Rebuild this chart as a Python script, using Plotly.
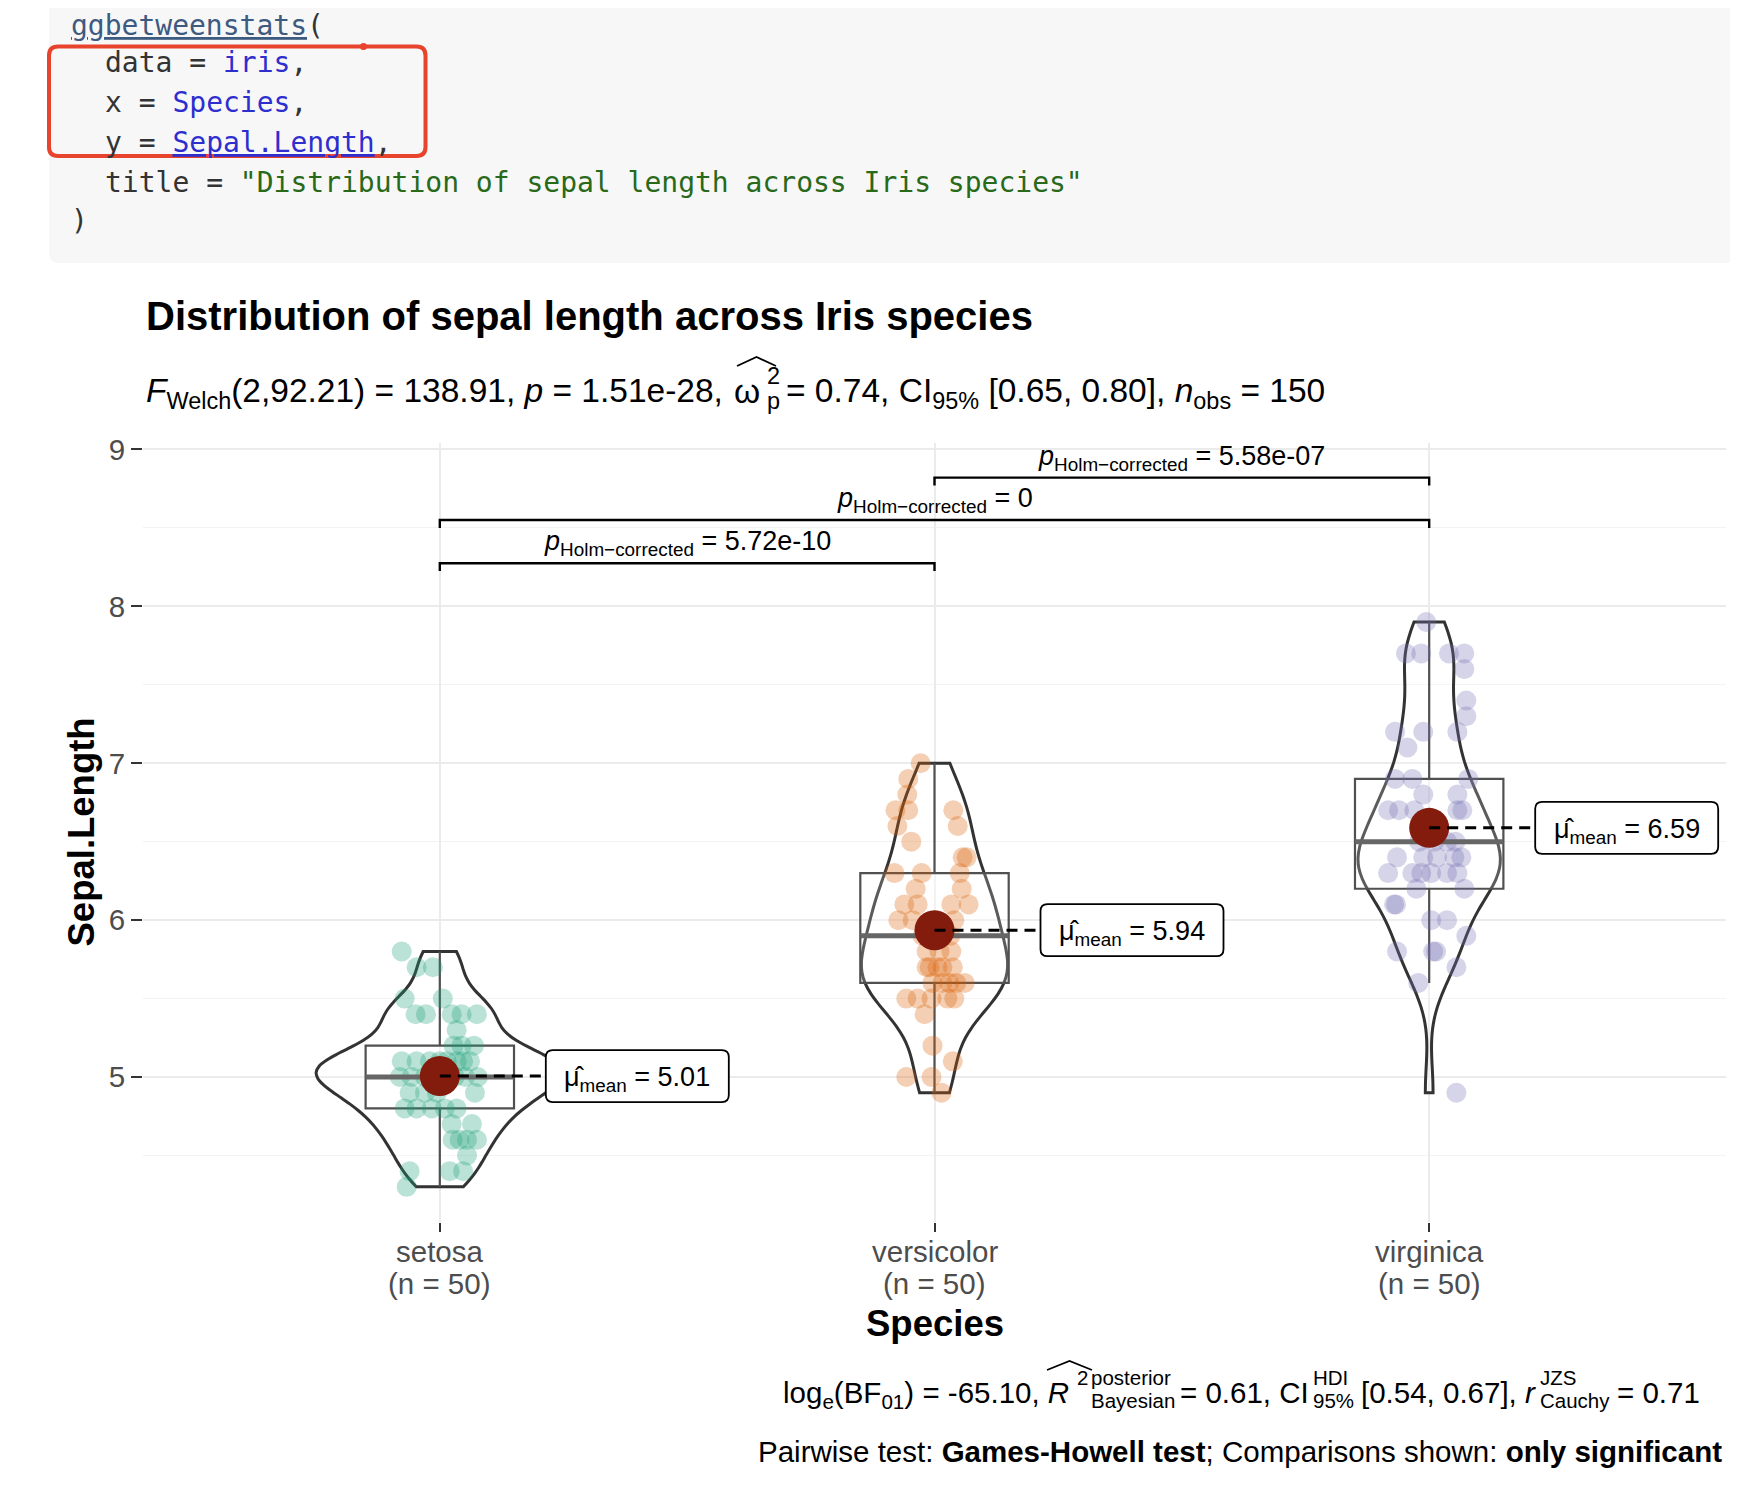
import numpy as np
import plotly.graph_objects as go

# ------------------------------------------------------------------ data
SPECIES = ["setosa", "versicolor", "virginica"]

SETOSA = [4.3, 4.4, 4.4, 4.4, 4.5, 4.6, 4.6, 4.6, 4.6, 4.7, 4.7,
          4.8, 4.8, 4.8, 4.8, 4.8, 4.9, 4.9, 4.9, 4.9,
          5.0, 5.0, 5.0, 5.0, 5.0, 5.0, 5.0, 5.0,
          5.1, 5.1, 5.1, 5.1, 5.1, 5.1, 5.1, 5.1,
          5.2, 5.2, 5.2, 5.3, 5.4, 5.4, 5.4, 5.4, 5.4, 5.5, 5.5, 5.7, 5.7, 5.8]
SETOSA_JITTER = [-0.067, -0.061, 0.020, 0.047, 0.055, 0.026, 0.055, 0.075, 0.040, 0.065, 0.024,
                 -0.047, -0.016, 0.034, -0.071, 0.010, -0.061, 0.071, -0.006, -0.030,
                 -0.081, -0.057, -0.030, -0.010, 0.010, 0.030, 0.051, 0.077,
                 -0.077, -0.047, 0.047, 0.014, 0.034, 0.061, -0.020, 0.000,
                 0.028, 0.069, 0.044, 0.034, -0.049, -0.028, 0.024, 0.075, 0.044, -0.071, 0.006,
                 -0.047, -0.014, -0.077]

VERSICOLOR = [4.9, 5.0, 5.0, 5.1, 5.2, 5.4, 5.5, 5.5, 5.5, 5.5, 5.5,
              5.6, 5.6, 5.6, 5.6, 5.6, 5.7, 5.7, 5.7, 5.7, 5.7, 5.8, 5.8, 5.8, 5.9, 5.9,
              6.0, 6.0, 6.0, 6.0, 6.1, 6.1, 6.1, 6.1, 6.2, 6.2, 6.3, 6.3, 6.3, 6.4, 6.4,
              6.5, 6.6, 6.6, 6.7, 6.7, 6.7, 6.8, 6.9, 7.0]
VERSICOLOR_JITTER = [0.014, -0.057, -0.006, 0.037, -0.004, -0.020,
                     -0.057, -0.034, -0.006, 0.026, 0.040,
                     -0.004, 0.016, 0.044, 0.061, 0.030,
                     -0.016, 0.006, 0.016, 0.037, -0.010,
                     -0.016, 0.010, 0.034, -0.024, 0.032,
                     -0.073, -0.044, 0.004, 0.040, -0.061, -0.034, 0.034, 0.069,
                     -0.038, 0.055, -0.081, -0.026, 0.051, 0.057, 0.065,
                     -0.047, -0.075, 0.047, -0.079, -0.053, 0.038, -0.055, -0.053, -0.028]

VIRGINICA = [4.9, 5.6, 5.7, 5.8, 5.8, 5.8, 5.9, 6.0, 6.0, 6.1, 6.1, 6.2, 6.2,
             6.3, 6.3, 6.3, 6.3, 6.3, 6.3, 6.4, 6.4, 6.4, 6.4, 6.4, 6.5, 6.5, 6.5, 6.5,
             6.7, 6.7, 6.7, 6.7, 6.7, 6.8, 6.8, 6.9, 6.9, 6.9, 7.1, 7.2, 7.2, 7.2,
             7.3, 7.4, 7.6, 7.7, 7.7, 7.7, 7.7, 7.9]
VIRGINICA_JITTER = [0.055, -0.022, 0.055, -0.065, 0.008, 0.014, 0.075, 0.004, 0.036,
                    -0.071, -0.067, -0.026, 0.071,
                    -0.083, -0.034, -0.016, 0.004, 0.057, 0.036,
                    -0.065, -0.012, 0.016, 0.051, 0.065,
                    0.036, 0.053, -0.020, 0.010,
                    -0.083, -0.061, -0.030, 0.057, 0.067,
                    -0.012, 0.057, -0.069, -0.034, 0.079, -0.044,
                    -0.069, -0.012, 0.057, 0.075, 0.075, 0.071,
                    -0.047, -0.016, 0.040, 0.071, -0.006]

PAIRS = [(1, 2), (1, 3), (2, 3)]
PAIR_P = ["5.72e-10", "0", "5.58e-07"]

Y_TICKS = [5, 6, 7, 8, 9]
Y_MINOR = [4.5, 5.5, 6.5, 7.5, 8.5]

# ------------------------------------------------------------------ style / geometry
SANS = "Liberation Sans, Arial, Helvetica, sans-serif"
MONO = "DejaVu Sans Mono, Menlo, monospace"
COLORS = ["#1B9E77", "#D95F02", "#7570B3"]
BRACKET_Y = [8.275, 8.55, 8.82]
TIP = 0.05
VIOLIN_W = 0.5

W, H = 1738, 1498          # browser window
OFF = 8                    # default page body margin
FW, FH = W - 2 * OFF, H - 2 * OFF
PL, PR, PT, PB = 143, 1726, 443, 1222   # panel box in page pixels


def px(x):
    return (x - PL) / (PR - PL)


def py(y):
    return (PB - y) / (PB - PT)


def P(x, y):
    return f"{px(x):.5f},{py(y):.5f}"


def rrect_paper(x0, y0, x1, y1, r):
    return (f"M {P(x0 + r, y0)} L {P(x1 - r, y0)} Q {P(x1, y0)} {P(x1, y0 + r)} "
            f"L {P(x1, y1 - r)} Q {P(x1, y1)} {P(x1 - r, y1)} L {P(x0 + r, y1)} "
            f"Q {P(x0, y1)} {P(x0, y1 - r)} L {P(x0, y0 + r)} Q {P(x0, y0)} {P(x0 + r, y0)} Z")


def rrect_pix(x0, y0, x1, y1, r):
    return (f"M {x0 + r},{y0} L {x1 - r},{y0} Q {x1},{y0} {x1},{y0 + r} "
            f"L {x1},{y1 - r} Q {x1},{y1} {x1 - r},{y1} L {x0 + r},{y1} "
            f"Q {x0},{y1} {x0},{y1 - r} L {x0},{y0 + r} Q {x0},{y0} {x0 + r},{y0} Z")


def nrd0(v):
    v = np.asarray(v, float)
    q75, q25 = np.percentile(v, [75, 25])
    lo = min(np.std(v, ddof=1), (q75 - q25) / 1.34)
    return 0.9 * lo * len(v) ** (-0.2)


def kde_peak(v, bw):
    v = np.asarray(v, float)
    grid = np.linspace(v.min(), v.max(), 512)
    dens = np.exp(-0.5 * ((grid[:, None] - v[None, :]) / bw) ** 2).sum(axis=1)
    return dens.max() / (len(v) * bw * np.sqrt(2 * np.pi))


X = [1, 2, 3]
GROUPS = [SETOSA, VERSICOLOR, VIRGINICA]
JITTERS = [SETOSA_JITTER, VERSICOLOR_JITTER, VIRGINICA_JITTER]
for g, j in zip(GROUPS, JITTERS):
    assert len(g) == len(j) == 50

BWS = [nrd0(v) for v in GROUPS]
PEAKS = [kde_peak(v, b) for v, b in zip(GROUPS, BWS)]
GMAX = max(PEAKS)

fig = go.Figure()

# violins (area-scaled like ggplot: width proportional to each group's peak density)
for i, (xc, vals) in enumerate(zip(X, GROUPS)):
    fig.add_trace(go.Violin(
        x=[xc] * len(vals), y=vals, width=VIOLIN_W * PEAKS[i] / GMAX, spanmode="hard",
        bandwidth=BWS[i], scalemode="width", scalegroup=f"g{i}", points=False,
        line=dict(color="#333333", width=3), fillcolor="rgba(255,255,255,0.2)",
        hoverinfo="skip", showlegend=False))

# boxes
for xc, vals in zip(X, GROUPS):
    fig.add_trace(go.Box(
        x=[xc] * len(vals), y=vals, width=0.3, boxpoints="outliers", quartilemethod="linear",
        marker=dict(opacity=0, size=1), line=dict(color="#505050", width=2.2),
        fillcolor="rgba(255,255,255,0.2)", whiskerwidth=0, hoverinfo="skip", showlegend=False))

# jittered points
for xc, vals, jit, col in zip(X, GROUPS, JITTERS, COLORS):
    fig.add_trace(go.Scatter(
        x=xc + np.asarray(jit), y=vals, mode="markers",
        marker=dict(size=20, color=col, opacity=0.3, line=dict(width=0)),
        hoverinfo="skip", showlegend=False))

# medians (thick)
for xc, vals in zip(X, GROUPS):
    med = float(np.median(vals))
    fig.add_trace(go.Scatter(x=[xc - 0.15, xc + 0.15], y=[med, med], mode="lines",
                             line=dict(color="#666666", width=5), hoverinfo="skip", showlegend=False))

# significance brackets
for (a, b), yb in zip(PAIRS, BRACKET_Y):
    fig.add_trace(go.Scatter(x=[a, a, b, b], y=[yb - TIP, yb, yb, yb - TIP], mode="lines",
                             line=dict(color="black", width=2.4), hoverinfo="skip", showlegend=False))

# means
MEANS = [float(np.mean(v)) for v in GROUPS]
fig.add_trace(go.Scatter(x=X, y=MEANS, mode="markers",
                         marker=dict(size=40, color="#841c0e", line=dict(width=0)),
                         hoverinfo="skip", showlegend=False))

shapes = []
ann = []

# mean labels
LBL_OFF, LBL_W, LBL_H = 106, 183, 52
for xc, m in zip(X, MEANS):
    shapes.append(dict(type="line", xref="x", yref="y", xsizemode="pixel", ysizemode="pixel",
                       xanchor=xc, yanchor=m, x0=0, x1=LBL_OFF, y0=0, y1=0,
                       line=dict(color="black", width=3, dash="11px,7px")))
    shapes.append(dict(type="path", xref="x", yref="y", xsizemode="pixel", ysizemode="pixel",
                       xanchor=xc, yanchor=m,
                       path=rrect_pix(LBL_OFF, -LBL_H / 2, LBL_OFF + LBL_W, LBL_H / 2, 7),
                       fillcolor="white", line=dict(color="black", width=1.8)))
    ann.append(dict(text=f"\u03bc\u0302<sub>mean</sub> = {m:.2f}", x=xc, y=m, xref="x", yref="y",
                    xanchor="center", yanchor="middle", xshift=LBL_OFF + LBL_W / 2, yshift=-3,
                    showarrow=False, font=dict(size=27, color="black", family=SANS)))

# bracket labels
for (a, b), yb, p in zip(PAIRS, BRACKET_Y, PAIR_P):
    ann.append(dict(text=f"<i>p</i><sub>Holm\u2212corrected</sub> = {p}", x=(a + b) / 2, y=yb,
                    xref="x", yref="y", xanchor="center", yanchor="bottom", yshift=1,
                    showarrow=False, font=dict(size=27, color="black", family=SANS)))


def text(t, x, y, size, xanchor="left", color="black", family=SANS, **kw):
    ann.append(dict(text=t, x=px(x), y=py(y), xref="paper", yref="paper", xanchor=xanchor,
                    yanchor="middle", showarrow=False,
                    font=dict(size=size, color=color, family=family), **kw))


# x category labels
for xc, name, vals in zip(X, SPECIES, GROUPS):
    for t, yy in ((name, 1251), (f"(n = {len(vals)})", 1283)):
        ann.append(dict(text=t, x=xc, y=py(yy), xref="x", yref="paper", xanchor="center",
                        yanchor="middle", showarrow=False,
                        font=dict(size=29.5, color="#4d4d4d", family=SANS)))

# axis titles
text("<b>Species</b>", 934.5, 1323, 36.5, xanchor="center")
text("<b>Sepal.Length</b>", 81, 832.5, 36.5, xanchor="center", textangle=-90)

# title & subtitle
text("<b>Distribution of sepal length across Iris species</b>", 144, 316, 40)
text("<i>F</i><sub>Welch</sub>(2,92.21) = 138.91, <i>p</i> = 1.51e-28,", 144, 393, 33.5)
text("\u03c9", 747, 391, 33.5, xanchor="center")
text("2", 765, 376, 23.5)
text("p", 765, 401, 23.5)
text("= 0.74, CI<sub>95%</sub> [0.65, 0.80], <i>n</i><sub>obs</sub> = 150", 784, 393, 33.5)
shapes.append(dict(type="path", xref="paper", yref="paper",
                   path=f"M {P(737, 366)} L {P(756.5, 357)} L {P(776, 366)}",
                   line=dict(color="black", width=1.8)))

# caption
text("log<sub>e</sub>(BF<sub>01</sub>) = -65.10, <i>R</i>", 1071, 1394, 29.5, xanchor="right")
text("2", 1075, 1377, 20.5)
text("posterior", 1089, 1377, 20.5)
text("Bayesian", 1089, 1400, 20.5)
text("= 0.61, CI", 1178, 1392, 29.5)
text("HDI", 1311, 1377, 20.5)
text("95%", 1311, 1400, 20.5)
text("[0.54, 0.67], <i>r</i>", 1359, 1392, 29.5)
text("JZS", 1538, 1377, 20.5)
text("Cauchy", 1538, 1400, 20.5)
text("= 0.71", 1615, 1392, 29.5)
shapes.append(dict(type="path", xref="paper", yref="paper",
                   path=f"M {P(1047, 1370)} L {P(1069.5, 1361)} L {P(1092, 1370)}",
                   line=dict(color="black", width=1.8)))
text("Pairwise test: <b>Games-Howell test</b>; Comparisons shown: <b>only significant</b>",
     1724, 1451, 29.5, xanchor="right")

# code block
shapes.insert(0, dict(type="path", xref="paper", yref="paper", layer="below",
                      path=(f"M {P(49, -20)} L {P(1770, -20)} L {P(1770, 263)} L {P(59, 263)} "
                            f"Q {P(49, 263)} {P(49, 253)} Z"),
                      fillcolor="#f7f7f7", line=dict(width=0)))
shapes.append(dict(type="path", xref="paper", yref="paper",
                   path=rrect_paper(49, 46.5, 425.5, 156, 9),
                   line=dict(color="#E8432D", width=4)))
shapes.append(dict(type="circle", xref="paper", yref="paper",
                   x0=px(360), x1=px(367), y0=py(43), y1=py(50),
                   fillcolor="#E8432D", line=dict(width=0)))

BLUE = "#2E2ECF"
CODE = [
    (69, 25, '<span style="color:#3d5a80"><u>ggbetweenstats</u></span>('),
    (103, 62, f'data = <span style="color:{BLUE}">iris</span>,'),
    (103, 102, f'x = <span style="color:{BLUE}">Species</span>,'),
    (103, 142, f'y = <span style="color:{BLUE}"><u>Sepal.Length</u></span>,'),
    (103, 182, 'title = <span style="color:#28691a">"Distribution of sepal length across Iris species"</span>'),
    (69, 221, ')'),
]
for xx, yy, t in CODE:
    text(t, xx, yy, 28, color="#333333", family=MONO)

fig.update_layout(
    template="none",
    width=FW, height=FH,
    margin=dict(l=PL - OFF, r=FW - (PR - OFF), t=PT - OFF, b=FH - (PB - OFF), pad=0),
    paper_bgcolor="white", plot_bgcolor="white",
    showlegend=False, hovermode=False,
    violinmode="overlay", boxmode="overlay",
    font=dict(family=SANS, color="black"),
    xaxis=dict(range=[0.4, 3.6], tickvals=X, showticklabels=False, ticks="outside",
               ticklen=9, tickwidth=2.4, tickcolor="#333333",
               showgrid=True, gridcolor="#ebebeb", gridwidth=2,
               zeroline=False, showline=False, automargin=False, fixedrange=True),
    yaxis=dict(range=[4.076, 9.041], tickvals=Y_TICKS, ticks="outside",
               ticklen=11, tickwidth=2.4, tickcolor="#333333",
               tickfont=dict(size=29.5, color="#4d4d4d", family=SANS),
               ticklabelstandoff=0,
               showgrid=True, gridcolor="#ebebeb", gridwidth=2,
               minor=dict(tickvals=Y_MINOR, showgrid=True, gridcolor="#f3f3f3", gridwidth=1.2, ticks=""),
               zeroline=False, showline=False, automargin=False, fixedrange=True),
    shapes=shapes,
    annotations=ann,
)

fig.write_html("out.html", config={"displayModeBar": False})
